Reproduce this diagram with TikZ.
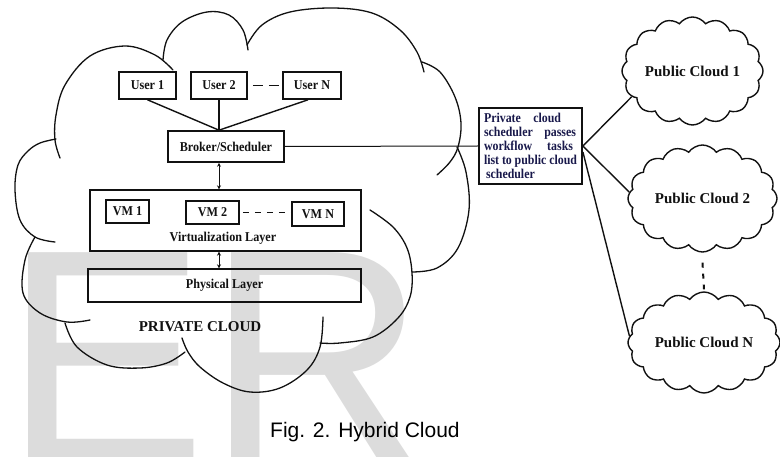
\documentclass[tikz,border=0pt]{standalone}
\usepackage{fontspec}
\setmainfont{Liberation Serif}
\newfontfamily\lab{Liberation Serif}[FakeStretch=0.9]
\newfontfamily\tbf{Liberation Serif}[FakeStretch=0.88]
\newfontfamily\capf{Liberation Sans}
\usetikzlibrary{shapes.symbols,arrows.meta}
\definecolor{wm}{HTML}{DCDCDC}
\definecolor{navy}{RGB}{25,25,75}
\definecolor{ink}{HTML}{111111}
\begin{document}
\begin{tikzpicture}[x=1pt,y=-1pt,
  box/.style={draw=ink, line width=1.6pt, inner sep=0pt, font=\lab\bfseries\fontsize{13.5}{14}\selectfont, text=ink},
  lobe/.style={draw=ink, line width=1.3pt, line cap=round},
  conn/.style={draw=ink, line width=1.4pt},
  dbl/.style={draw=ink, line width=1pt, {Stealth[length=4pt,width=4pt]}-{Stealth[length=4pt,width=4pt]}},
  pub/.style={cloud, cloud puffs=16, cloud puff arc=110, cloud ignores aspect, draw=ink, line width=1.4pt, inner sep=0pt, font=\bfseries\fontsize{15}{16}\selectfont, text=ink}
]
\useasboundingbox (0,0) rectangle (780,457);
\clip (0,0) rectangle (780,457);
% watermark
\node[anchor=base west, inner sep=0pt, text=wm, font=\capf\fontsize{305}{305}\selectfont] (wmk) at (3,462) {ER};

% private cloud outline
\draw[lobe] plot[smooth, tension=0.6] coordinates {(55,242) (35,237) (20,220) (15,190) (18,165) (28,151) (40,143) (56,139)};
\draw[lobe] plot[smooth, tension=0.6] coordinates {(60,158) (55,140) (56,115) (65,85) (90,56) (125,46) (155,55) (173,70)};
\draw[lobe] plot[smooth, tension=0.6] coordinates {(163,60) (167,40) (182,22) (207,12) (229,15) (243,30) (248,50)};
\draw[lobe] plot[smooth, tension=0.6] coordinates {(247,45) (262,25) (290,12) (333,8) (372,13) (400,30) (417,52) (424,72)};
\draw[lobe] plot[smooth, tension=0.6] coordinates {(422,62) (440,72) (455,97) (461,123) (458,147) (450,162) (437,175)};
\draw[lobe] plot[smooth, tension=0.6] coordinates {(412,272) (437,268) (458,248) (469,210) (466,172) (457,147)};
\draw[lobe] plot[smooth, tension=0.6] coordinates {(320,343) (340,343) (373,337) (398,318) (410,297) (412,273) (407,248) (393,227) (370,210)};
\draw[lobe] plot[smooth, tension=0.6] coordinates {(182,338) (188,352) (200,367) (223,383) (250,392) (280,388) (307,370) (320,347) (323,317)};
\draw[lobe] plot[smooth, tension=0.6] coordinates {(65,323) (77,347) (107,365) (140,368) (167,363) (185,352)};
\draw[lobe] plot[smooth, tension=0.6] coordinates {(35,237) (25,260) (23,293) (40,313) (67,322) (90,320)};

% boxes
\node[box, minimum width=57pt, minimum height=27pt] (u1) at (147.5,85.5) {User 1};
\node[box, minimum width=56pt, minimum height=27pt] (u2) at (219,85.5) {User 2};
\node[box, minimum width=58pt, minimum height=27pt] (uN) at (312,85.5) {User N};
\node[box, minimum width=116pt, minimum height=31pt] (br) at (226,146.5) {Broker/Scheduler};
\node[box, line width=1.4pt, minimum width=271pt, minimum height=61pt] (virt) at (225.5,220.5) {};
\node[box, minimum width=43pt, minimum height=23pt] (vm1) at (127.5,211.5) {VM 1};
\node[box, minimum width=53pt, minimum height=23pt] (vm2) at (212.5,212.5) {VM 2};
\node[box, minimum width=52pt, minimum height=24pt] (vmN) at (318,214) {VM N};
\node[inner sep=0pt, font=\lab\bfseries\fontsize{13.5}{14}\selectfont, text=ink] (vl) at (223,238) {Virtualization Layer};
\node[box, line width=1.4pt, minimum width=273pt, minimum height=33pt] (phys) at (224.5,285.5) {Physical Layer};
\node[inner sep=0pt, font=\bfseries\fontsize{15}{16}\selectfont, text=ink] (pcl) at (200,327) {PRIVATE CLOUD};

\coordinate (axis) at (219,146);
\draw[conn] (u1.south) -- (br.north -| axis);
\draw[conn] (u2.south) -- (br.north -| axis);
\draw[conn] ([xshift=-4pt]uN.south) -- (br.north -| axis);
\draw[draw=ink, line width=1.8pt, dash pattern=on 10pt off 6pt, dash phase=11pt] (u2.east) -- (uN.west);
\draw[draw=ink, line width=1.5pt, dash pattern=on 6pt off 6pt, dash phase=9pt] (vm2.east) -- (vm2.east -| vmN.west);
\draw[dbl] (br.south -| axis) -- (virt.north -| axis);
\draw[dbl] (virt.south -| axis) -- (phys.north -| axis);

% text box
\node[draw=ink, line width=1.8pt, minimum width=103pt, minimum height=76pt, inner sep=0pt, text=navy, font=\tbf\bfseries\fontsize{13.5}{13.7}\selectfont] (tb) at (530.5,146)
{\parbox{94pt}{\baselineskip=13.9pt
\hbox to 77pt{Private\hfill cloud}
\hbox to 92pt{scheduler\hfill passes}
\hbox to 89pt{workflow\hfill tasks}
\hbox to 93pt{list to public cloud}
\hbox{\kern2pt scheduler}}};
\draw[draw=ink, line width=1pt] (br.east) -- (tb.west);

% public clouds
\node[pub, minimum width=141pt, minimum height=108pt] (pc1) at (692.5,71) {Public Cloud 1};
\node[pub, minimum width=149pt, minimum height=107pt] (pc2) at (702.5,198.5) {Public Cloud 2};
\node[pub, minimum width=152pt, minimum height=101pt] (pcN) at (704,342.5) {Public Cloud N};
\draw[conn] (tb.east) -- (pc1.203);
\draw[conn] (tb.east) -- (pc2.175);
\draw[conn] ([yshift=-6pt]tb.east) -- (pcN.175);
\draw[draw=ink, line width=2pt, dash pattern=on 5pt off 6pt] ([yshift=-10pt]pc2.south) -- ([yshift=2pt]pcN.north);

% caption
\node[anchor=base west, inner sep=0pt, font=\capf\fontsize{21}{22}\selectfont, text=black] (cap) at (270,437) {Fig. 2. Hybrid Cloud};
\end{tikzpicture}
\end{document}
